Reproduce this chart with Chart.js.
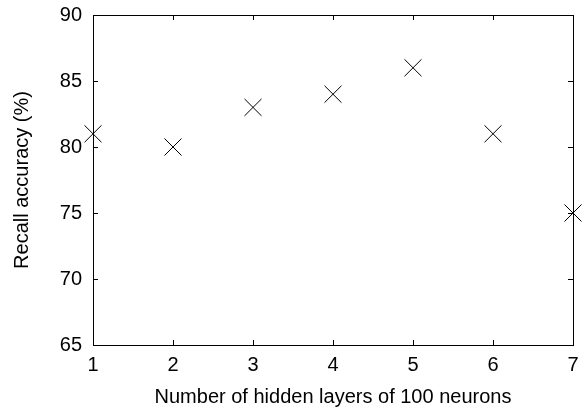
<!DOCTYPE html>
<html>
<head>
<meta charset="utf-8">
<script src="https://cdn.jsdelivr.net/npm/chart.js@4"></script>
<style>
  html, body { margin: 0; padding: 0; background: #fff; }
  #wrap { width: 588px; height: 414px; }
</style>
</head>
<body>
<div id="wrap"><canvas id="chart" width="588" height="414"></canvas></div>
<script>
const layers = [1, 2, 3, 4, 5, 6, 7];
const recall = [81, 80, 83, 84, 86, 81, 75];
const xTicks = [1, 2, 3, 4, 5, 6, 7];
const yTicks = [65, 70, 75, 80, 85, 90];

// frame + inward ticks on all four sides, gnuplot style
const framePlugin = {
  id: "frame",
  afterDatasetsDraw(chart) {
    const { ctx, chartArea: a, scales } = chart;
    ctx.save();
    ctx.strokeStyle = "#000";
    ctx.lineWidth = 1;
    ctx.strokeRect(a.left + 0.5, a.top + 0.5, a.right - a.left, a.bottom - a.top);
    ctx.beginPath();
    xTicks.forEach((v) => {
      const x = Math.round(scales.x.getPixelForValue(v)) + 0.5;
      ctx.moveTo(x, a.bottom); ctx.lineTo(x, a.bottom - 5);
      ctx.moveTo(x, a.top); ctx.lineTo(x, a.top + 5);
    });
    yTicks.forEach((v) => {
      const y = Math.round(scales.y.getPixelForValue(v)) + 0.5;
      ctx.moveTo(a.left, y); ctx.lineTo(a.left + 5, y);
      ctx.moveTo(a.right, y); ctx.lineTo(a.right - 5, y);
    });
    ctx.stroke();
    ctx.restore();
  }
};

const font = { family: "'Liberation Sans', Arial, sans-serif", size: 20 };

new Chart(document.getElementById("chart"), {
  type: "scatter",
  data: {
    datasets: [{
      data: layers.map((x, i) => ({ x: x, y: recall[i] })),
      pointStyle: "crossRot",
      pointRadius: 12,
      pointHoverRadius: 12,
      borderColor: "#000",
      borderWidth: 1,
      clip: false
    }]
  },
  options: {
    responsive: false,
    animation: false,
    layout: { padding: { top: 0, right: 15, left: 0, bottom: 0 } },
    plugins: { legend: { display: false }, tooltip: { enabled: false } },
    scales: {
      x: {
        type: "linear",
        min: 1,
        max: 7,
        afterBuildTicks: (s) => { s.ticks = xTicks.map((v) => ({ value: v })); },
        afterFit: (s) => { s.height = 69; },
        grid: { display: false, drawTicks: false },
        border: { display: false },
        ticks: { color: "#000", font: font, padding: 8, maxRotation: 0 },
        title: { display: true, text: "Number of hidden layers of 100 neurons", color: "#000", font: font, padding: { top: 4, bottom: 5 } }
      },
      y: {
        min: 65,
        max: 90,
        afterBuildTicks: (s) => { s.ticks = yTicks.map((v) => ({ value: v })); },
        afterFit: (s) => { s.width = 93; s.paddingTop = 15; s.paddingBottom = 0; },
        grid: { display: false, drawTicks: false },
        border: { display: false },
        ticks: { color: "#000", font: font, padding: 11 },
        title: { display: true, text: "Recall accuracy (%)", color: "#000", font: font, padding: { top: 10, bottom: 10 } }
      }
    }
  },
  plugins: [framePlugin]
});
</script>
</body>
</html>
